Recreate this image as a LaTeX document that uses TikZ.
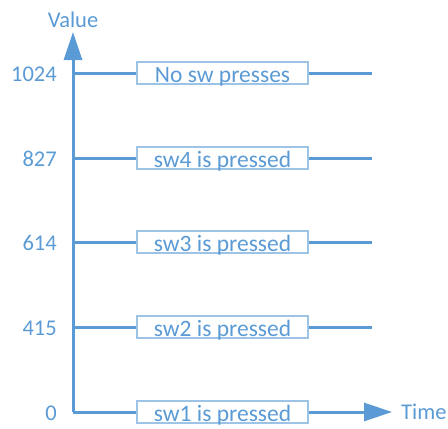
\documentclass[tikz,border=0pt]{standalone}
\usepackage{fontspec}
\setmainfont{Carlito}
\usetikzlibrary{arrows.meta}
\definecolor{ax}{HTML}{5B9BD5}
\definecolor{bx}{HTML}{9DC3E6}
\begin{document}
\begin{tikzpicture}[x=1pt,y=-1pt]
\tikzset{
  axline/.style={draw=ax,line width=3pt},
  statebox/.style={draw=bx,line width=1.5pt,fill=white,minimum width=171pt,inner sep=0pt,
    text height=20pt,text depth=2pt,text=ax,font=\fontsize{23.5}{27}\selectfont},
  lbl/.style={text=ax,inner sep=0pt,font=\fontsize{22.5}{27}\selectfont},
  bigtip/.style={-{Triangle[length=28pt,width=18pt]}}}
\useasboundingbox (0,0) rectangle (448,429);
% axis
\coordinate (org) at (73,412);
\coordinate (top) at (73,32);
\draw[axline,bigtip] (org) -- (top);
\node[lbl,anchor=base] (value) at (73,27) {Value};
% levels
\foreach \y/\v/\t/\n in {73/1024/No sw presses/4,158/827/sw4 is pressed/3,242/614/sw3 is pressed/2,327/415/sw2 is pressed/1}{
  \coordinate (a\n) at (73,\y);
  \coordinate (r\n) at (372,\y);
  \node[statebox] (b\n) at (222.5,\y) {\t};
  \node[lbl,anchor=base east] (l\n) at (57,\y+8) {\v};
  \draw[axline] (a\n) -- (b\n.west);
  \draw[axline] (b\n.east) -- (r\n);
}
% bottom
\node[statebox] (b0) at (222.5,412) {sw1 is pressed};
\node[lbl,anchor=base east] (l0) at (57,420) {0};
\draw[axline] (org) -- (b0.west);
\coordinate (tend) at (392,412);
\draw[axline,bigtip] (b0.east) -- (tend);
\node[lbl,anchor=west] (time) at (401,412) {Time};
\end{tikzpicture}
\end{document}
